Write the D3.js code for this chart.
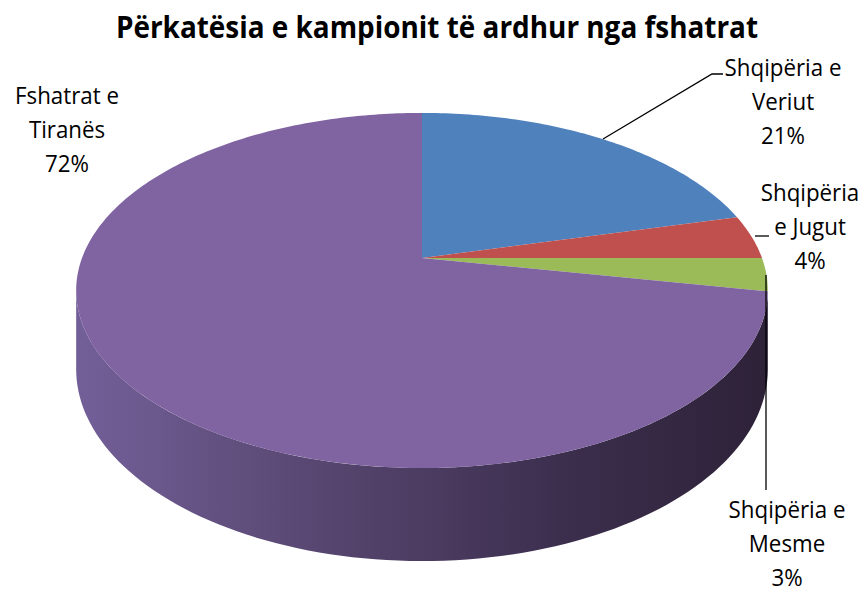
<!DOCTYPE html>
<html lang="sq">
<head>
<meta charset="UTF-8">
<title>Përkatësia e kampionit</title>
<script src="https://d3js.org/d3.v7.min.js"></script>
<style>
  body { margin: 0; background: #fff; }
  text { font-family: "Open Sans", "Noto Sans", sans-serif; fill: #000; }
</style>
</head>
<body>
<svg width="864" height="594" id="mainsvg"></svg>
<script>
// data
const categories = ['Shqipëria e Veriut', 'Shqipëria e Jugut', 'Shqipëria e Mesme', 'Fshatrat e Tiranës'];
const values = [21, 4, 3, 72];
const labelLines = [
  ['Shqipëria e', 'Veriut', '21%'],
  ['Shqipëria', 'e Jugut', '4%'],
  ['Shqipëria e', 'Mesme', '3%'],
  ['Fshatrat e', 'Tiranës', '72%']
];
const colors = ['#4f81bd', '#c0504d', '#9bbb59', '#8064a2'];

const svg = d3.select('#mainsvg');

// pie geometry (perspective tilt)
const cx = 422, cy = 258;
const rx = 340, ry = 171.6, k = 0.183, depth = 76;

// project angle (clockwise from top) + radius fraction onto the screen
const project = (a, r = 1, drop = 0) => {
  const u = r * Math.sin(a), v = -r * Math.cos(a);
  const s = 1 / (1 - k * v);
  return [cx + rx * u * s, cy + ry * v * s + drop * s];
};

const pie = d3.pie().sort(null).value(d => d)(values);
const line = d3.line();

// side gradient
const defs = svg.append('defs');
const grad = defs.append('linearGradient')
  .attr('id', 'sideGrad')
  .attr('gradientUnits', 'userSpaceOnUse')
  .attr('x1', cx - rx).attr('x2', cx + rx).attr('y1', 0).attr('y2', 0);
[[0, '#735f98'], [0.35, '#574670'], [0.7, '#3c2f4e'], [1, '#2e2239']].forEach(s => {
  grad.append('stop').attr('offset', s[0]).attr('stop-color', s[1]);
});

// visible side wall (between the two tangent points)
const tA = Math.PI / 2 + Math.asin(k), tB = 3 * Math.PI / 2 - Math.asin(k);
const sideStart = Math.max(tA, pie[3].startAngle);
const topPts = d3.range(0, 101).map(i => project(sideStart + (tB - sideStart) * i / 100));
const botPts = d3.range(100, -1, -1).map(i => project(sideStart + (tB - sideStart) * i / 100, 1, depth));
svg.append('path')
  .attr('d', line(topPts.concat(botPts)) + 'Z')
  .attr('fill', 'url(#sideGrad)');

// top faces
svg.append('g').selectAll('path')
  .data(pie)
  .join('path')
  .attr('d', d => {
    const n = Math.max(4, Math.ceil((d.endAngle - d.startAngle) * 60));
    const pts = [[cx, cy]].concat(d3.range(0, n + 1).map(i =>
      project(d.startAngle + (d.endAngle - d.startAngle) * i / n)));
    return line(pts) + 'Z';
  })
  .attr('fill', (d, i) => colors[i]);

// leader lines
const leaders = [
  [[603, 139], [712, 74], [723, 74]],
  [[755, 236], [769, 236]],
  [[766, 275], [766, 490]]
];
svg.append('g').selectAll('path')
  .data(leaders)
  .join('path')
  .attr('d', d => line(d))
  .attr('fill', 'none')
  .attr('stroke', '#000')
  .attr('stroke-width', 1.3);

// labels
const labelPos = [[783, 76], [810, 201], [787, 518], [67, 104]];
const lineGap = 34;
const labels = svg.append('g').selectAll('g')
  .data(labelLines)
  .join('g')
  .attr('transform', (d, i) => `translate(${labelPos[i][0]},${labelPos[i][1]}) scale(0.93,1)`);
labels.selectAll('text')
  .data(d => d)
  .join('text')
  .attr('y', (d, i) => i * lineGap)
  .attr('text-anchor', 'middle')
  .attr('font-size', 24)
  .text(d => d);

// title
svg.append('text')
  .attr('transform', 'translate(437,38) scale(0.9,1)')
  .attr('text-anchor', 'middle')
  .attr('font-size', 31)
  .attr('font-weight', 'bold')
  .text('Përkatësia e kampionit të ardhur nga fshatrat');
</script>
</body>
</html>
